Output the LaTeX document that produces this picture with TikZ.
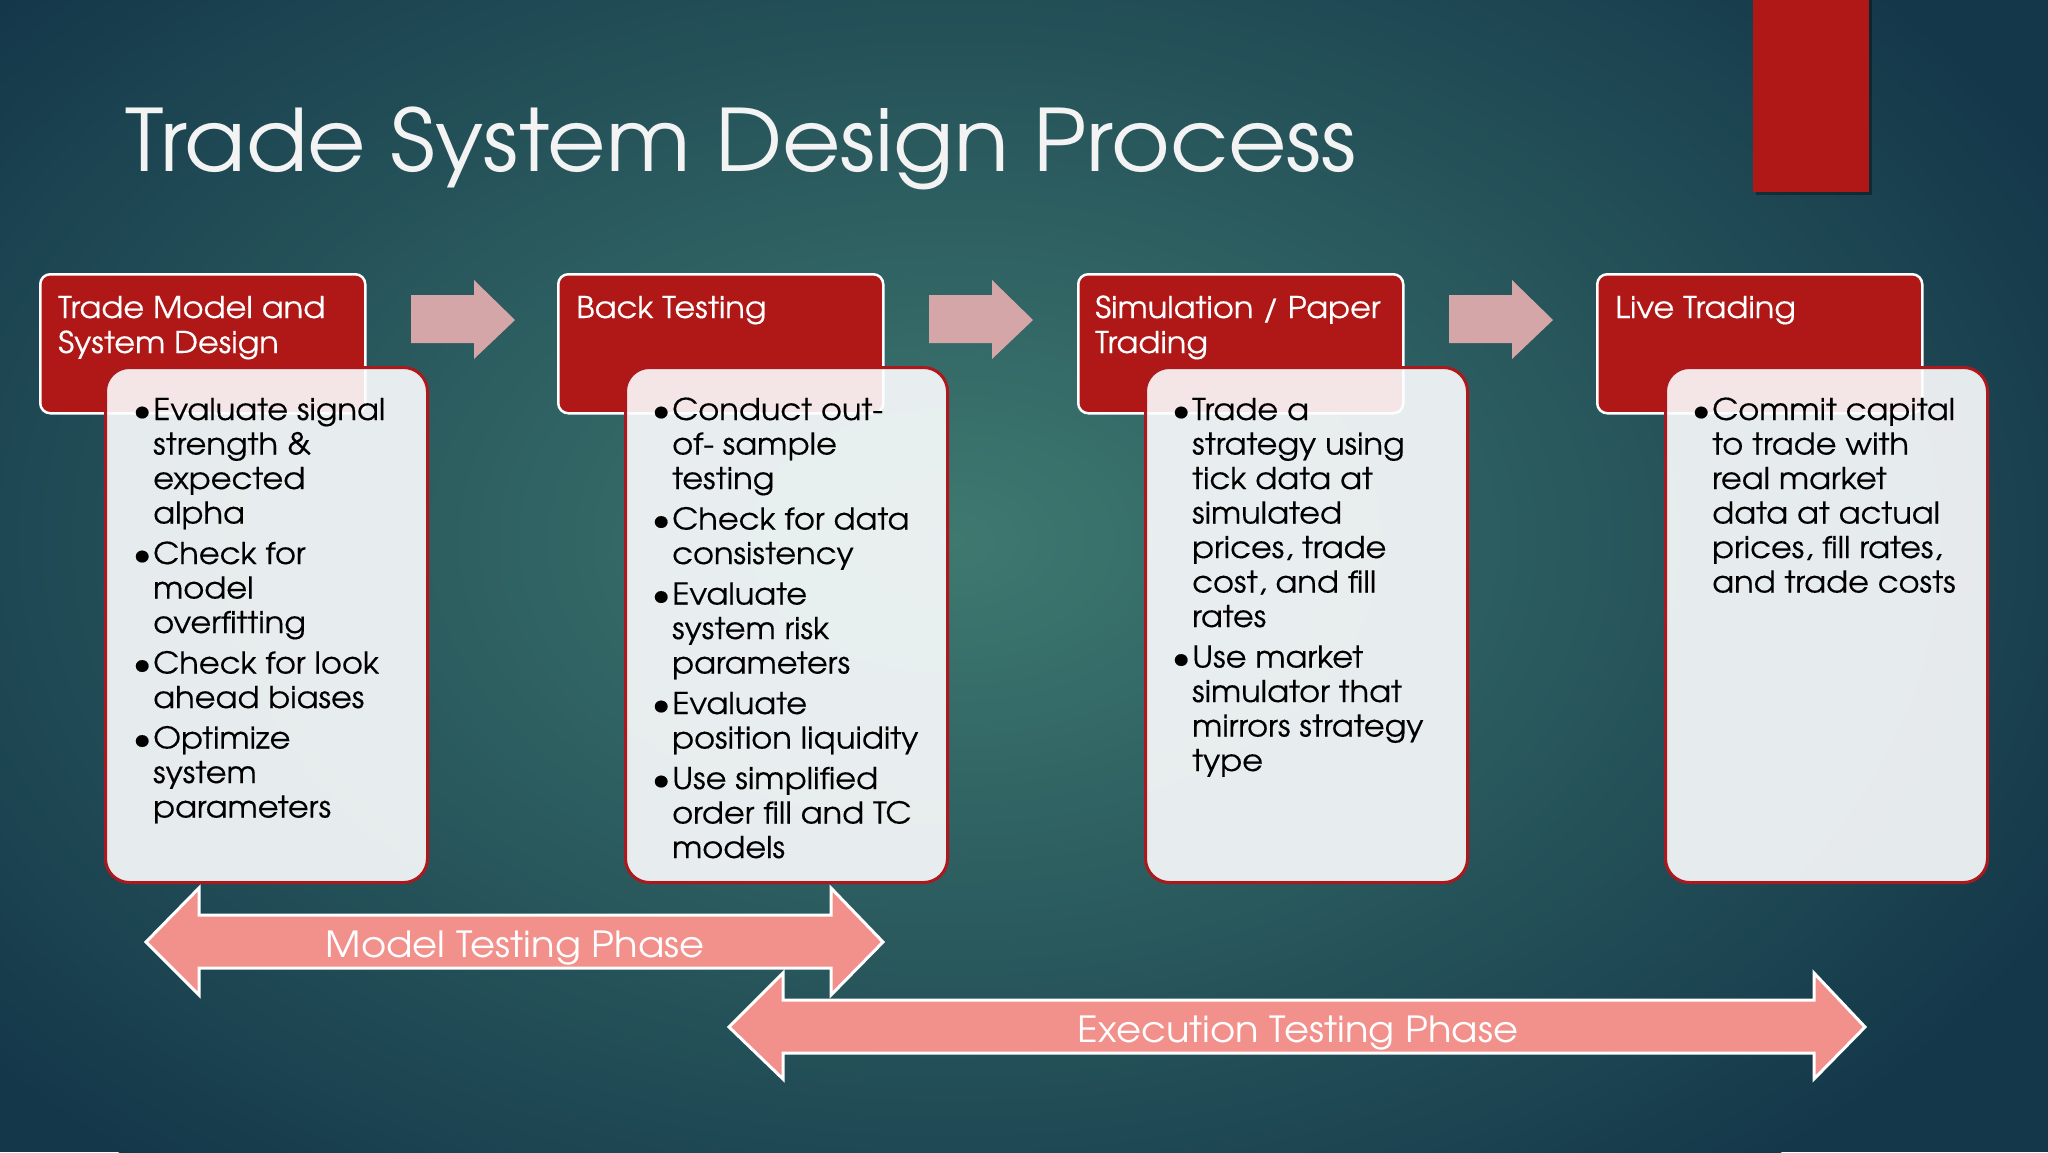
\documentclass[tikz,border=0pt]{standalone}
\usepackage{fontspec}
\usepackage{graphicx}
\setmainfont{texgyreadventor-regular.otf}[FakeStretch=1.07]
\newfontfamily\titlefont{texgyreadventor-regular.otf}[FakeStretch=1.045]
\newfontfamily\bodyfont{texgyreadventor-regular.otf}[FakeStretch=1.07, FakeBold=0.3]
\definecolor{hdrred}{RGB}{176,24,24}
\definecolor{bodyfill}{RGB}{252,253,254}
\definecolor{bodyline}{RGB}{172,24,28}
\definecolor{smallarrow}{RGB}{213,166,167}
\definecolor{phasefill}{RGB}{242,144,140}
\definecolor{bgin}{RGB}{62,121,112}
\definecolor{bgout}{RGB}{20,56,74}
\definecolor{titlewhite}{RGB}{243,243,243}
\newcommand\bul{\makebox[22pt][c]{\raisebox{-0.8pt}{\scalebox{1.1}{\textbullet}}}}
\newcommand\blockarrow[1]{%
  \fill[smallarrow] (#1,295) -- (#1+63,295) -- (#1+63,280) -- (#1+104,320)
    -- (#1+63,359) -- (#1+63,343) -- (#1,343) -- cycle;}
\begin{document}
\begin{tikzpicture}[x=1pt,y=-1pt,
  hdr/.style={draw=white, line width=2.5pt, fill=hdrred, rounded corners=10pt,
    minimum width=325pt, minimum height=139pt, anchor=north west, inner sep=0pt},
  body/.style={draw=bodyline, line width=3pt, fill=bodyfill, fill opacity=0.9,
    rounded corners=24pt, minimum width=322pt, minimum height=515pt,
    anchor=north west, inner sep=0pt},
  htext/.style={anchor=base west, inner sep=0pt, text=white,
    font=\bodyfont\fontsize{30}{35}\selectfont},
  btext/.style={anchor=base west, inner sep=0pt, text=black,
    font=\bodyfont\fontsize{30}{34.5}\selectfont},
  phase/.style={draw=white, line width=3pt, fill=phasefill, line join=miter},
  ptext/.style={anchor=base, inner sep=0pt, text=white,
    font=\fontsize{36}{40}\selectfont},
  ttl/.style={anchor=base west, inner sep=0pt, text=titlewhite,
    font=\titlefont\fontsize{86}{100}\selectfont}]

% background
\path[use as bounding box] (0,0) rectangle (2048,1152);
\fill[bgout] (0,0) rectangle (2048,1152);
\begin{scope}
  \clip (0,0) rectangle (2048,1152);
  \shade[inner color=bgin, outer color=bgout] (950,540) ellipse [x radius=1250, y radius=820];
\end{scope}

% top-right red bar
\fill[black, opacity=0.35] (1756,0) rectangle (1872,195);
\fill[hdrred] (1753,0) rectangle (1869,192);

% title
\node[ttl] (title) at (125,171) {Trade System Design Process};

% small arrows
\blockarrow{411}
\blockarrow{929}
\blockarrow{1449}

% headers
\node[hdr] (h1) at (39,273) {};
\node[hdr] (h2) at (557,273) {};
\node[hdr] (h3) at (1077,273) {};
\node[hdr] (h4) at (1596,273) {};

\node[htext] (h1t) at (58,318) {\begin{tabular}[t]{@{}l@{}}Trade Model and\\System Design\end{tabular}};
\node[htext] (h2t) at (576,318) {Back Testing};
\node[htext] (h3t) at (1095,318) {\begin{tabular}[t]{@{}l@{}}Simulation / Paper\\Trading\end{tabular}};
\node[htext] (h4t) at (1615,318) {Live Trading};

% bodies
\node[body] (b1) at (104,366) {};
\node[body] (b2) at (624,366) {};
\node[body] (b3) at (1144,366) {};
\node[body] (b4) at (1664,366) {};

\node[btext] (b1t) at (131,420) {\begin{tabular}[t]{@{}l@{}l@{}}
\bul & Evaluate signal\\
 & strength \&\\
 & expected\\
 & alpha\\[6pt]
\bul & Check for\\
 & model\\
 & overfitting\\[6pt]
\bul & Check for look\\
 & ahead biases\\[6pt]
\bul & Optimize\\
 & system\\
 & parameters
\end{tabular}};

\node[btext] (b2t) at (650,420) {\begin{tabular}[t]{@{}l@{}l@{}}
\bul & Conduct out-\\
 & of- sample\\
 & testing\\[6pt]
\bul & Check for data\\
 & consistency\\[6pt]
\bul & Evaluate\\
 & system risk\\
 & parameters\\[6pt]
\bul & Evaluate\\
 & position liquidity\\[6pt]
\bul & Use simplified\\
 & order fill and TC\\
 & models
\end{tabular}};

\node[btext] (b3t) at (1170,420) {\begin{tabular}[t]{@{}l@{}l@{}}
\bul & Trade a\\
 & strategy using\\
 & tick data at\\
 & simulated\\
 & prices, trade\\
 & cost, and fill\\
 & rates\\[6pt]
\bul & Use market\\
 & simulator that\\
 & mirrors strategy\\
 & type
\end{tabular}};

\node[btext] (b4t) at (1690,420) {\begin{tabular}[t]{@{}l@{}l@{}}
\bul & Commit capital\\
 & to trade with\\
 & real market\\
 & data at actual\\
 & prices, fill rates,\\
 & and trade costs
\end{tabular}};

% phase arrows
\draw[phase] (146,942) -- (199,888) -- (199,915) -- (831,915) -- (831,888) -- (883,942)
  -- (831,995) -- (831,968) -- (199,968) -- (199,995) -- cycle;
\node[ptext] (p1) at (515,957) {Model Testing Phase};

\draw[phase] (729,1027) -- (783,973) -- (783,1000) -- (1814,1000) -- (1814,973) -- (1865,1027)
  -- (1814,1079) -- (1814,1053) -- (783,1053) -- (783,1079) -- cycle;
\node[ptext] (p2) at (1298,1042) {Execution Testing Phase};
\end{tikzpicture}
\end{document}
